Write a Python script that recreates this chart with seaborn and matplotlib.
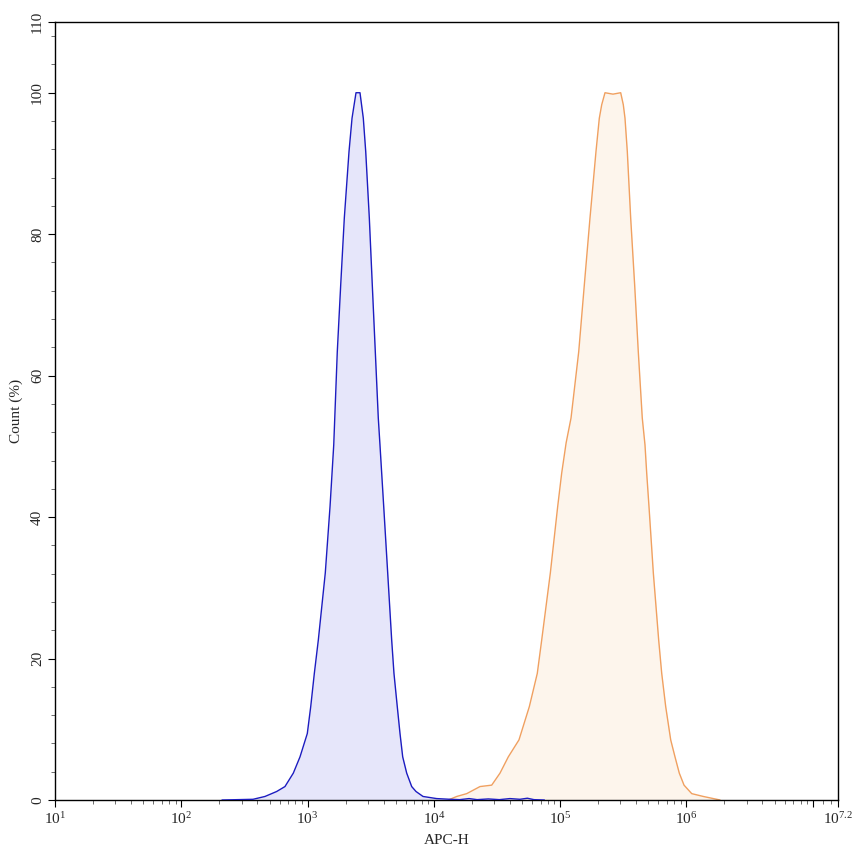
import numpy as np
import pandas as pd
import seaborn as sns
import matplotlib
matplotlib.use("Agg")
import matplotlib.pyplot as plt
from matplotlib.ticker import FixedLocator, FixedFormatter, MultipleLocator, NullFormatter

# ---- data ----
blue_x = [210, 370, 460, 569, 662, 771, 871, 995, 1059, 1131, 1216, 1381, 1506, 1611,
          1719, 1829, 1954, 2129, 2249, 2418, 2600, 2762, 2886, 3082, 3254, 3437, 3630,
          3743, 4007, 4309, 4634, 4831, 5131, 5393, 5665, 6093, 6675, 7221, 8206, 10520,
          13420, 16000, 19000, 22000, 27000, 33000, 40000, 48000, 55000, 62000, 75000]
blue_y = [0, 0.1, 0.5, 1.2, 1.9, 3.8, 6.1, 9.4, 13.2, 17.9, 22.6, 32.1, 41.5, 50.2,
          63.4, 72.8, 82.3, 91.7, 96.4, 100, 100, 96.4, 91.7, 82.3, 72.8, 63.4, 54.0,
          50.2, 41.5, 32.1, 22.6, 17.9, 13.2, 9.4, 6.1, 3.8, 1.9, 1.2, 0.5, 0.2,
          0.1, 0.05, 0.2, 0.05, 0.15, 0.05, 0.2, 0.1, 0.25, 0.05, 0]

orange_x = [13000, 15170, 18200, 23190, 28700, 33400, 38850, 47200, 57000, 65900, 71400,
            83600, 95600, 102800, 111500, 121900, 140300, 155300, 172300, 192200, 204200,
            213300, 226500, 262000, 301500, 316200, 326100, 340100, 361700, 389000, 415500,
            446900, 469600, 484500, 505000, 546700, 602800, 637000, 685000, 750400, 811500,
            877600, 956800, 1101000, 1360000, 1844000]
orange_y = [0, 0.5, 0.9, 1.9, 2.1, 3.8, 6.1, 8.5, 13.2, 17.9, 22.6,
            32.1, 41.5, 46.2, 50.5, 54.0, 63.4, 72.8, 82.3, 91.7, 96.4,
            98.3, 100, 99.8, 100, 98.3, 96.4, 91.7, 82.3, 72.8, 63.4,
            54.0, 50.2, 46.2, 41.5, 32.1, 22.6, 17.9, 13.2, 8.5, 6.1,
            3.8, 2.1, 0.9, 0.5, 0]

x_tick_vals = [1e1, 1e2, 1e3, 1e4, 1e5, 1e6, 1e7, 10 ** 7.2]
x_tick_labels = [r"$\mathrm{10^{1}}$", r"$\mathrm{10^{2}}$", r"$\mathrm{10^{3}}$",
                 r"$\mathrm{10^{4}}$", r"$\mathrm{10^{5}}$", r"$\mathrm{10^{6}}$",
                 "", r"$\mathrm{10^{7.2}}$"]
y_tick_vals = [0, 20, 40, 60, 80, 100, 110]

# ---- style ----
sns.set_style("ticks")
plt.rcParams["font.family"] = ["Liberation Serif", "DejaVu Serif"]
plt.rcParams["mathtext.fontset"] = "custom"
plt.rcParams["mathtext.rm"] = "Liberation Serif"
plt.rcParams["mathtext.it"] = "Liberation Serif:italic"

fig = plt.figure(figsize=(8.53, 8.56), dpi=100)
ax = fig.add_axes([55 / 853, 1 - 800 / 856, (838 - 55) / 853, (800 - 22) / 856])

dfb = pd.DataFrame({"x": blue_x, "y": blue_y})
dfo = pd.DataFrame({"x": orange_x, "y": orange_y})

ax.fill_between(dfb["x"], dfb["y"], color="#e6e6fa", lw=0, zorder=1)
ax.fill_between(dfo["x"], dfo["y"], color="#fdf5ec", lw=0, zorder=1)
sns.lineplot(data=dfb, x="x", y="y", ax=ax, color="#1c1cc0", lw=1.0, zorder=3,
             sort=False, estimator=None)
sns.lineplot(data=dfo, x="x", y="y", ax=ax, color="#f0a060", lw=1.0, zorder=2,
             sort=False, estimator=None)

ax.set_xscale("log")
ax.set_xlim(1e1, 10 ** 7.2)
ax.set_ylim(0, 110)

ax.xaxis.set_major_locator(FixedLocator(x_tick_vals))
ax.xaxis.set_major_formatter(FixedFormatter(x_tick_labels))
minor = [m * 10 ** e for e in range(1, 7) for m in range(2, 10)] + [1.2e7, 1.4e7]
ax.xaxis.set_minor_locator(FixedLocator(minor))
ax.xaxis.set_minor_formatter(NullFormatter())

ax.yaxis.set_major_locator(FixedLocator(y_tick_vals))
ax.yaxis.set_minor_locator(MultipleLocator(4))
ax.yaxis.set_minor_formatter(NullFormatter())

ax.tick_params(axis="both", which="major", length=5, width=0.8, color="black",
               labelsize=11, direction="out")
ax.tick_params(axis="both", which="minor", length=3, width=0.6, color="#555555",
               direction="out")
ax.tick_params(axis="x", which="major", pad=3)
ax.tick_params(axis="y", which="major", pad=3)
for lab in ax.get_yticklabels():
    lab.set_rotation(90)
    lab.set_va("center")

for s in ax.spines.values():
    s.set_visible(True)
    s.set_linewidth(1.0)
    s.set_color("black")

ax.set_xlabel("APC-H", fontsize=11, labelpad=5)
ax.set_ylabel("Count (%)", fontsize=11, labelpad=6)
ax.grid(False)

fig.savefig("out.png", dpi=100, facecolor="white")
